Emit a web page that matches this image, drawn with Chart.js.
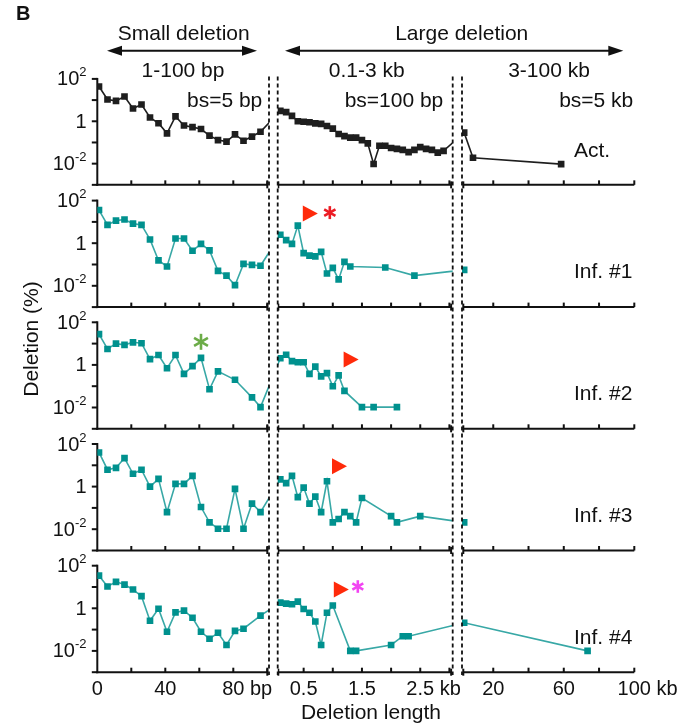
<!DOCTYPE html>
<html>
<head>
<meta charset="utf-8">
<script src="https://cdn.jsdelivr.net/npm/chart.js@4.4.0/dist/chart.umd.min.js"></script>
<style>
  body { margin: 0; background: #fff; }
  #wrap { position: relative; width: 691px; height: 727px; }
</style>
</head>
<body>
<div id="wrap"><canvas id="delChart"></canvas></div>
<script>
// bin positions for the three length ranges
var smallBins = [1, 6, 11, 16, 21, 26, 31, 36, 41, 46, 51, 56, 61, 66, 71, 76, 81, 86, 91, 96];          // bp, bs=5 bp
var midBins = [0.1, 0.2, 0.3, 0.4, 0.5, 0.6, 0.7, 0.8, 0.9, 1.0, 1.1, 1.2, 1.3, 1.4, 1.5,
               1.6, 1.7, 1.8, 1.9, 2.0, 2.1, 2.2, 2.3, 2.4, 2.5, 2.6, 2.7, 2.8, 2.9];                // kb, bs=100 bp
var largeBins = [3.5, 8.5, 58.5, 73.5];                                                             // kb, bs=5 kb

// deletion frequency (%) per bin, null = no deletion in that bin
var actSmall = [44, 10.7, 9.2, 14.8, 4.0, 6.2, 1.5, 0.81, 0.27, 1.7, 0.63, 0.53, 0.43, 0.21, 0.13, 0.11, 0.24, 0.12, 0.19, 0.32];
var actMid = [3.1, 2.7, 1.8, 1.0, 0.95, 0.9, 0.8, 0.75, 0.6, 0.45, 0.25, 0.2, 0.17, 0.17, 0.13,
              0.09, 0.0096, 0.07, 0.07, 0.055, 0.05, 0.045, 0.035, 0.045, 0.06, 0.05, 0.045, 0.033, 0.04];
var actLarge = [0.29, 0.019, 0.0095, null];

var inf1Small = [36, 7.2, 11.5, 13, 8.3, 7.2, 1.5, 0.155, 0.081, 1.66, 1.66, 0.44, 0.93, 0.46, 0.05, 0.03, 0.0107, 0.107, 0.096, 0.087];
var inf1Mid = [2.5, 1.4, 0.93, 6.7, 0.34, 0.26, 0.24, 0.39, 0.038, 0.069, 0.02, 0.133, 0.081, null, null,
               null, null, null, 0.072, null, null, null, null, 0.03, null, null, null, null, null];
var inf1Large = [0.056, null, null, null];

var inf2Small = [28, 5.6, 10, 8.7, 11.5, 10.4, 1.86, 2.9, 0.7, 2.9, 0.38, 0.87, 2.15, 0.072, 0.5, null, 0.2, null, 0.03, 0.0104];
var inf2Mid = [2.05, 3.0, 1.5, 1.33, 1.33, 0.38, 0.83, 0.29, 0.41, 0.1, 0.32, 0.06, null, null, 0.0104,
               null, 0.0104, null, null, null, 0.0104, null, null, null, null, null, null, null, null];
var inf2Large = [null, null, null, null];

var inf3Small = [40, 6.2, 7.6, 21.8, 4.0, 6.2, 1.0, 2.3, 0.063, 1.34, 1.34, 3.2, 0.11, 0.021, 0.0105, 0.0105, 0.78, 0.0105, 0.16, 0.063];
var inf3Mid = [2.2, 1.45, 3.2, 0.32, 0.9, 0.16, 0.34, 0.063, 1.78, 0.021, 0.03, 0.063, 0.041, 0.021, 0.29,
               null, null, null, null, 0.041, 0.021, null, null, null, 0.041, null, null, null, null];
var inf3Large = [0.021, null, null, null];

var inf4Small = [34, 10.5, 17.5, 13, 7.6, 3.7, 0.26, 0.95, 0.079, 0.64, 0.78, 0.36, 0.079, 0.037, 0.071, 0.019, 0.087, 0.11, null, 0.45];
var inf4Mid = [1.85, 1.66, 1.55, 2.05, 0.93, 0.62, 0.24, 0.019, 0.62, 1.35, null, null, 0.01, 0.01, null,
               null, null, null, null, 0.019, null, 0.049, 0.049, null, null, null, null, null, null];
var inf4Large = [0.21, null, null, 0.01];

var rowNames = ['Act.', 'Inf. #1', 'Inf. #2', 'Inf. #3', 'Inf. #4'];

// axis ticks and labels
var yDecades = [100, 10, 1, 0.1, 0.01, 0.001];
var yTickLabels = [{ v: 100, base: '10', sup: '2' }, { v: 1, base: '1', sup: '' }, { v: 0.01, base: '10', sup: '-2' }];
var axisSegs = [
  { seg: 0, from: 0, to: 100, ticks: [20, 40, 60, 80, 100] },
  { seg: 1, from: 0.065, to: 3.03, ticks: [0.5, 1, 1.5, 2, 2.5, 3] },
  { seg: 2, from: 3, to: 100, ticks: [20, 40, 60, 80, 100] }
];
var xTickLabels = [
  { seg: 0, v: 0, text: '0' }, { seg: 0, v: 40, text: '40' }, { seg: 0, v: 80, text: '80', unit: ' bp' },
  { seg: 1, v: 0.5, text: '0.5' }, { seg: 1, v: 1.5, text: '1.5' }, { seg: 1, v: 2.5, text: '2.5', unit: ' kb' },
  { seg: 2, v: 20, text: '20' }, { seg: 2, v: 60, text: '60' }, { seg: 2, v: 100, text: '100', unit: ' kb' }
];

// highlighted bins: row, range (0 small / 1 mid), bin index
var arrowMarks = [
  { row: 1, seg: 1, bin: 3, dx: 5, dy: -12 },
  { row: 2, seg: 1, bin: 10, dx: 5, dy: -16 },
  { row: 3, seg: 1, bin: 8, dx: 5, dy: -15 },
  { row: 4, seg: 1, bin: 9, dx: 1, dy: -16 }
];
var starMarks = [
  { row: 1, seg: 1, bin: 3, dx: 32, dy: -13, r: 6.5, color: '#ec1c24' },
  { row: 2, seg: 0, bin: 12, dx: 0, dy: -16, r: 8, color: '#6cac48' },
  { row: 4, seg: 1, bin: 9, dx: 25, dy: -19, r: 6.3, color: '#f244f2' }
];

// the three ranges share one x scale, each range gets its own stretch of it
var segments = [
  { from: 0, scale: 1.7 },       // 1-100 bp
  { from: 177.2, scale: 58.3 },  // 0.1-3 kb
  { from: 360.7, scale: 1.763 }  // 3-100 kb
];
function joint(s, v) { return segments[s].from + segments[s].scale * v; }
var breaks = [[171.7, 180.4], [355.4, 364.7]];

// row layout: one log axis per row, 5 decades tall
var PLOT_LEFT = 97.3, PLOT_RIGHT = 634.3, TOP = 78.9, ROW_STEP = 121.7, DEC = 21.3;
var BOTTOM = TOP + 4 * ROW_STEP + 5 * DEC;
var SPAN = (BOTTOM - TOP) / DEC;

var rows = [
  { small: actSmall, mid: actMid, large: actLarge, mark: '#1e1e1e', line: '#1e1e1e' },
  { small: inf1Small, mid: inf1Mid, large: inf1Large, mark: '#00918e', line: '#38a8a6' },
  { small: inf2Small, mid: inf2Mid, large: inf2Large, mark: '#00918e', line: '#38a8a6' },
  { small: inf3Small, mid: inf3Mid, large: inf3Large, mark: '#00918e', line: '#38a8a6' },
  { small: inf4Small, mid: inf4Mid, large: inf4Large, mark: '#00918e', line: '#38a8a6' }
];

function rowPoints(r) {
  var pts = [];
  [[smallBins, r.small], [midBins, r.mid], [largeBins, r.large]].forEach(function (p, s) {
    p[0].forEach(function (b, i) {
      if (p[1][i] != null) pts.push({ x: joint(s, b), y: p[1][i] });
    });
  });
  return pts;
}

var scales = { x: { type: 'linear', min: 0, max: PLOT_RIGHT - PLOT_LEFT, display: false } };
var datasets = [];
rows.forEach(function (r, i) {
  var topExp = 2 + i * ROW_STEP / DEC;
  scales['y' + i] = { type: 'logarithmic', display: false, min: Math.pow(10, topExp - SPAN), max: Math.pow(10, topExp) };
  datasets.push({
    label: rowNames[i],
    data: rowPoints(r),
    xAxisID: 'x',
    yAxisID: 'y' + i,
    borderColor: r.line,
    borderWidth: 1.6,
    backgroundColor: r.mark,
    pointStyle: 'rect',
    pointRadius: 4.7,
    pointBorderWidth: 0,
    pointBackgroundColor: r.mark,
    tension: 0
  });
});

var FONT = '"Liberation Sans", Arial, sans-serif';

function stroke(ctx, x1, y1, x2, y2) {
  ctx.beginPath(); ctx.moveTo(x1, y1); ctx.lineTo(x2, y2); ctx.stroke();
}
function text(ctx, s, x, y, size, align, weight) {
  ctx.font = (weight || '') + ' ' + size + 'px ' + FONT;
  ctx.textAlign = align || 'center';
  ctx.textBaseline = 'middle';
  ctx.fillText(s, x, y);
}
function arrowLine(ctx, x1, x2, y) {
  var hl = 15, hw = 5;
  ctx.lineWidth = 2;
  stroke(ctx, x1 + hl - 2, y, x2 - hl + 2, y);
  ctx.beginPath(); ctx.moveTo(x1, y); ctx.lineTo(x1 + hl, y - hw); ctx.lineTo(x1 + hl, y + hw); ctx.closePath(); ctx.fill();
  ctx.beginPath(); ctx.moveTo(x2, y); ctx.lineTo(x2 - hl, y - hw); ctx.lineTo(x2 - hl, y + hw); ctx.closePath(); ctx.fill();
}
function markPoint(chart, m) {
  var r = rows[m.row];
  var bins = m.seg === 0 ? smallBins : midBins;
  var vals = m.seg === 0 ? r.small : r.mid;
  return {
    x: chart.scales.x.getPixelForValue(joint(m.seg, bins[m.bin])),
    y: chart.scales['y' + m.row].getPixelForValue(vals[m.bin])
  };
}

var frame = {
  id: 'frame',
  beforeDatasetsDraw: function (chart) {
    var ctx = chart.ctx, xs = chart.scales.x;
    ctx.save();
    ctx.strokeStyle = '#111';
    ctx.fillStyle = '#111';
    ctx.lineWidth = 2;
    rows.forEach(function (r, i) {
      var ys = chart.scales['y' + i];
      var yTop = ys.getPixelForValue(100), yBot = ys.getPixelForValue(0.001);
      var x0 = xs.getPixelForValue(0);
      stroke(ctx, x0, yTop - 1, x0, yBot + 1);
      yDecades.forEach(function (v) {
        var py = ys.getPixelForValue(v);
        stroke(ctx, x0 - 5.5, py, x0, py);
      });
      yTickLabels.forEach(function (t) {
        var py = ys.getPixelForValue(t.v), right = 86.5;
        ctx.font = '13px ' + FONT;
        var sw = t.sup ? ctx.measureText(t.sup).width : 0;
        if (t.sup) {
          ctx.textAlign = 'right'; ctx.textBaseline = 'middle';
          ctx.fillText(t.sup, right, py - 6);
        }
        text(ctx, t.base, right - sw, py + 1, 20, 'right');
      });
      axisSegs.forEach(function (a) {
        var xa = xs.getPixelForValue(joint(a.seg, a.from));
        var xb = xs.getPixelForValue(joint(a.seg, a.to));
        stroke(ctx, xa - (a.seg === 0 ? 1 : 0), yBot, xb, yBot);
        a.ticks.forEach(function (t) {
          var px = xs.getPixelForValue(joint(a.seg, t));
          stroke(ctx, px, yBot, px, yBot - 4.5);
        });
        if (a.seg > 0) stroke(ctx, xa, yBot - 3.5, xa, yBot + 3.5);
        if (a.seg < 2) stroke(ctx, xb, yBot - 3.5, xb, yBot + 3.5);
      });
      text(ctx, rowNames[i], 574, ys.getPixelForValue(1) + 29.5, 21, 'left');
    });
    ctx.restore();
  },
  afterDatasetsDraw: function (chart) {
    var ctx = chart.ctx, xs = chart.scales.x, area = chart.chartArea;
    ctx.save();
    // blank the gaps between ranges, then the dashed break lines
    ctx.fillStyle = '#fff';
    breaks.forEach(function (b) {
      var xa = xs.getPixelForValue(b[0]), xb = xs.getPixelForValue(b[1]);
      ctx.fillRect(xa, area.top - 3, xb - xa, area.bottom - area.top + 6);
    });
    ctx.strokeStyle = '#111';
    ctx.lineWidth = 1.8;
    ctx.setLineDash([4, 3]);
    breaks.forEach(function (b) {
      b.forEach(function (v) {
        var px = xs.getPixelForValue(v);
        stroke(ctx, px, 76.5, px, 675);
      });
    });
    ctx.setLineDash([]);

    // highlighted bins
    arrowMarks.forEach(function (m) {
      var p = markPoint(chart, m);
      var left = p.x + m.dx, cy = p.y + m.dy;
      ctx.fillStyle = '#ff2a0a';
      ctx.beginPath(); ctx.moveTo(left, cy - 8); ctx.lineTo(left + 15, cy); ctx.lineTo(left, cy + 8); ctx.closePath(); ctx.fill();
    });
    starMarks.forEach(function (m) {
      var p = markPoint(chart, m);
      var cx = p.x + m.dx, cy = p.y + m.dy;
      ctx.strokeStyle = m.color;
      ctx.lineWidth = 2.6;
      [90, 30, -30].forEach(function (deg) {
        var a = deg * Math.PI / 180, ux = Math.cos(a) * m.r, uy = Math.sin(a) * m.r;
        stroke(ctx, cx - ux, cy - uy, cx + ux, cy + uy);
      });
    });

    // header
    ctx.fillStyle = '#111';
    text(ctx, 'B', 16, 14, 20, 'left', 'bold');
    text(ctx, 'Small deletion', 183.7, 34, 21);
    text(ctx, 'Large deletion', 461.7, 34, 21);
    ctx.strokeStyle = '#111';
    arrowLine(ctx, 107, 257, 50.7);
    arrowLine(ctx, 285, 623.3, 50.7);
    text(ctx, '1-100 bp', 183, 71, 21);
    text(ctx, '0.1-3 kb', 366.7, 71, 21);
    text(ctx, '3-100 kb', 549, 71, 21);
    text(ctx, 'bs=5 bp', 262.3, 101, 21, 'right');
    text(ctx, 'bs=100 bp', 443.3, 101, 21, 'right');
    text(ctx, 'bs=5 kb', 633.3, 101, 21, 'right');

    // x tick labels under the last row
    xTickLabels.forEach(function (t) {
      var px = xs.getPixelForValue(joint(t.seg, t.v));
      ctx.font = '20px ' + FONT;
      var w = ctx.measureText(t.text).width;
      text(ctx, t.text + (t.unit || ''), px - w / 2, 689, 20, 'left');
    });
    text(ctx, 'Deletion length', 371, 713, 21);

    ctx.translate(32, 339);
    ctx.rotate(-Math.PI / 2);
    text(ctx, 'Deletion (%)', 0, 0, 21);
    ctx.restore();
  }
};

Chart.defaults.font.family = FONT;
new Chart(document.getElementById('delChart').getContext('2d'), {
  type: 'line',
  data: { datasets: datasets },
  options: {
    responsive: true,
    maintainAspectRatio: false,
    animation: false,
    devicePixelRatio: 1,
    events: [],
    layout: { padding: { left: PLOT_LEFT, right: 691 - PLOT_RIGHT, top: TOP, bottom: 727 - BOTTOM } },
    scales: scales,
    plugins: { legend: { display: false }, tooltip: { enabled: false }, title: { display: false } }
  },
  plugins: [frame]
});
</script>
</body>
</html>
